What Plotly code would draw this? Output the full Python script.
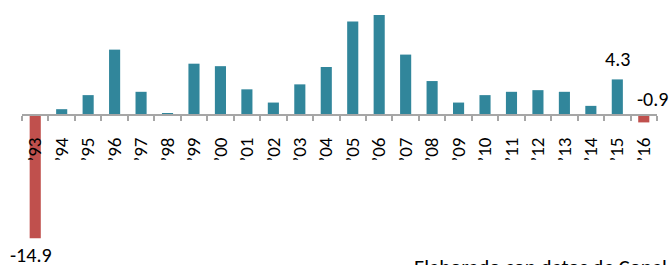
import plotly.graph_objects as go

years = ["’93", "’94", "’95", "’96", "’97", "’98", "’99", "’00", "’01", "’02", "’03", "’04",
         "’05", "’06", "’07", "’08", "’09", "’10", "’11", "’12", "’13", "’14", "’15", "’16"]
values = [-14.9, 0.7, 2.4, 7.9, 2.8, 0.15, 6.2, 5.9, 3.1, 1.5, 3.7, 5.8,
          11.3, 12.1, 7.3, 4.1, 1.5, 2.4, 2.8, 3.0, 2.8, 1.1, 4.3, -0.9]
source_text = "Elaborado con datos de Conal"

TEAL = "#31869B"
RED = "#C0504D"
colors = [RED if v < 0 else TEAL for v in values]
FONT = "Carlito, Lato, sans-serif"

ymin, ymax = -18.14, 13.9
zero_pos = (0 - ymin) / (ymax - ymin)

fig = go.Figure()
fig.add_trace(go.Bar(x=years, y=values, marker_color=colors, marker_line_width=0,
                     width=0.42, hoverinfo="skip"))

fig.update_layout(
    width=671, height=265,
    margin=dict(l=22, r=14, t=0, b=0, autoexpand=False),
    paper_bgcolor="white", plot_bgcolor="white",
    showlegend=False,
    font=dict(family=FONT, color="#000000"),
    xaxis=dict(type="category", anchor="free", position=zero_pos, automargin=False,
               range=[-0.5, len(years) - 0.5],
               showline=True, linecolor="#A6A6A6", linewidth=2,
               ticks="outside", ticklen=5, tickcolor="#A6A6A6", tickwidth=2,
               tickson="boundaries", tickangle=-90, ticklabelstandoff=14,
               tickfont=dict(size=19, family=FONT, color="#000000"),
               showgrid=False, zeroline=False, layer="above traces"),
    yaxis=dict(range=[ymin, ymax], visible=False, automargin=False,
               showgrid=False, zeroline=False),
)

fig.add_annotation(x=years[22], y=values[22], xref="x", yref="y", text="4.3",
                   showarrow=False, yanchor="bottom", yshift=6,
                   font=dict(size=20, family=FONT, color="#000000"))
fig.add_annotation(x=years[23], y=0, xref="x", yref="y", text="-0.9",
                   showarrow=False, yanchor="middle", xshift=9, yshift=16,
                   font=dict(size=20, family=FONT, color="#000000"))
fig.add_annotation(x=years[0], y=values[0], xref="x", yref="y", text="-14.9",
                   showarrow=False, yanchor="top", xshift=-4, yshift=-3,
                   font=dict(size=20, family=FONT, color="#000000"))
fig.add_annotation(x=(412 - 22) / (671 - 36), y=0.05, xref="paper", yref="paper",
                   text=source_text, showarrow=False, xanchor="left", yanchor="top",
                   font=dict(size=21, family=FONT, color="#000000"))

fig.write_html("out.html", config={"displayModeBar": False},
               post_script="document.body.style.margin='0';document.body.style.overflow='hidden';")
